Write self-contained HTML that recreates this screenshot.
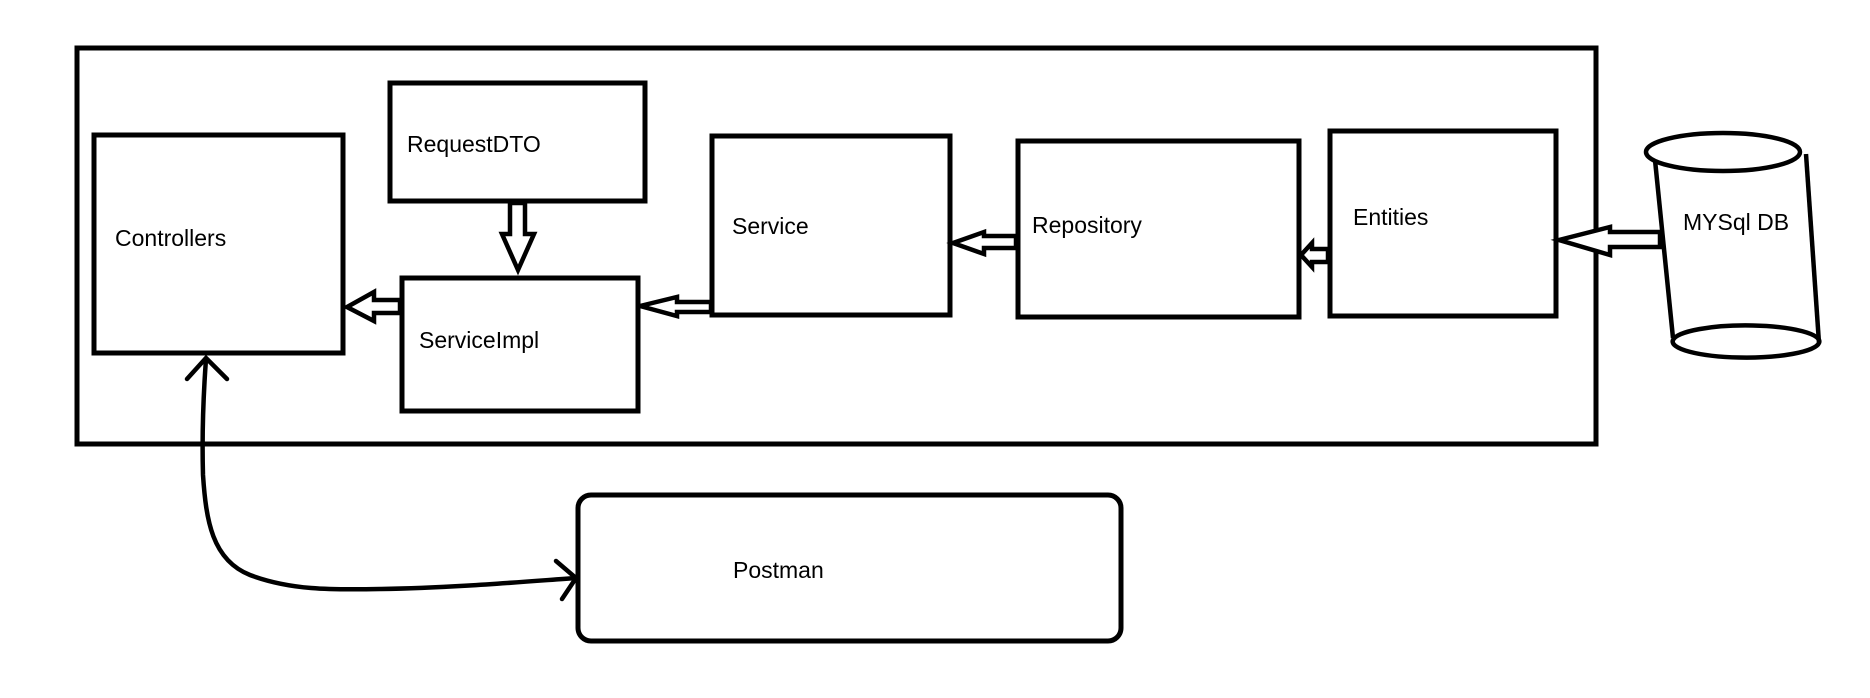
<!DOCTYPE html>
<html><head><meta charset="utf-8"><style>
html,body{margin:0;padding:0;background:#fff;}
svg{display:block;}
text{font-family:"Liberation Sans",sans-serif;font-size:23px;fill:#000;}
</style></head><body>
<svg width="1870" height="698" viewBox="0 0 1870 698" xmlns="http://www.w3.org/2000/svg">
<g fill="none" stroke="#000" stroke-width="5">
<rect x="77" y="48" width="1519" height="396"/>
<rect x="94" y="135" width="249" height="218"/>
<rect x="390" y="83" width="255" height="118"/>
<rect x="402" y="278" width="236" height="133"/>
<rect x="712" y="136" width="238" height="179"/>
<rect x="1018" y="141" width="281" height="176"/>
<rect x="1330" y="131" width="226" height="185"/>
<rect x="578" y="495" width="543" height="146" rx="13"/>
</g>
<g fill="#fff" stroke="#000" stroke-width="4.5" stroke-linejoin="miter">
<polygon points="510,203 525,203 525,234 534,234 518,270 502,234 510,234"/>
<polygon points="400,300 374,300 374,292 347,307 374,321 374,313 400,313"/>
<polygon points="711,302 677,302 677,297 640,306 677,316 677,312 711,312"/>
<polygon points="1016,236 984,236 984,232 953,243 984,254 984,248 1016,248"/>
<polygon points="1328,249 1312,249 1312,243 1301,255 1312,267 1312,262 1328,262"/>
<polygon points="1660,232 1610,232 1610,227 1559,240 1610,255 1610,247 1660,247"/>
</g>
<g fill="none" stroke="#000" stroke-width="4.5">
<path d="M1655,160 L1673,338"/>
<path d="M1806,154 L1819,343"/>
<ellipse cx="1723" cy="152" rx="77" ry="19" fill="#fff"/>
<path d="M1673,340 A73,16 0 0 0 1819,343 A73,16 0 0 0 1673,340 Z"/>
</g>
<g fill="none" stroke="#000" stroke-width="4.5" stroke-linecap="round">
<path d="M206,359 C203,400 202,440 203,475 C206,520 212,560 250,575 C290,590 330,590 380,589 C450,588 520,582 576,578"/>
<path d="M187,379 L206,358 L227,379"/>
<path d="M556,561 L576,578 L562,599"/>
</g>
<text x="115" y="246">Controllers</text>
<text x="407" y="152">RequestDTO</text>
<text x="419" y="348">ServiceImpl</text>
<text x="732" y="234">Service</text>
<text x="1032" y="233">Repository</text>
<text x="1353" y="225">Entities</text>
<text x="1683" y="230">MYSql DB</text>
<text x="733" y="578">Postman</text>
</svg>
</body></html>
